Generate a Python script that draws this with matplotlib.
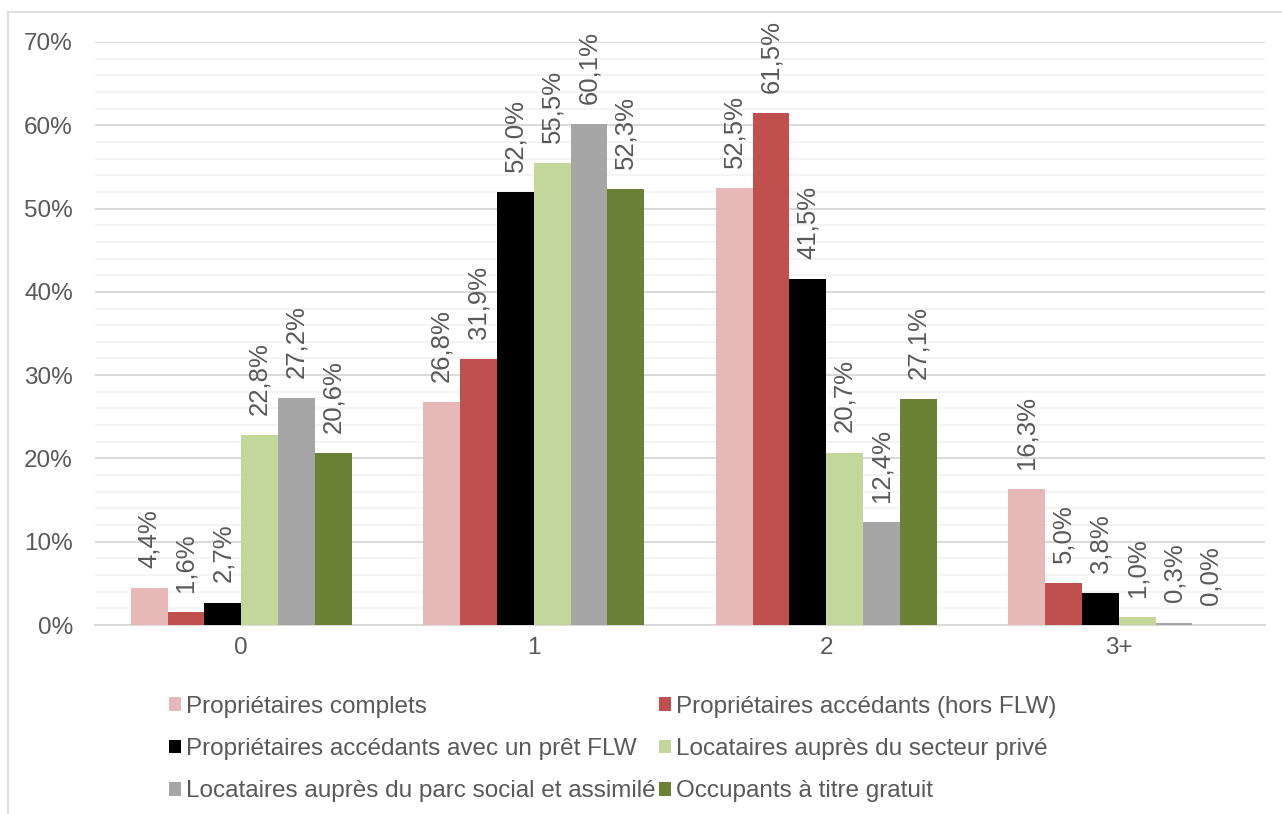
import matplotlib
matplotlib.use("Agg")
import matplotlib.pyplot as plt
import numpy as np
from matplotlib.lines import Line2D
from matplotlib.patches import Patch

plt.rcParams['font.family'] = ['Liberation Sans', 'DejaVu Sans']

categories = ["0", "1", "2", "3+"]
series_names = [
    "Propriétaires complets",
    "Propriétaires accédants (hors FLW)",
    "Propriétaires accédants avec un prêt FLW",
    "Locataires auprès du secteur privé",
    "Locataires auprès du parc social et assimilé",
    "Occupants à titre gratuit",
]
proprietaires_complets = [4.4, 26.8, 52.5, 16.3]
proprietaires_accedants = [1.6, 31.9, 61.5, 5.0]
proprietaires_flw = [2.7, 52.0, 41.5, 3.8]
locataires_prive = [22.8, 55.5, 20.7, 1.0]
locataires_social = [27.2, 60.1, 12.4, 0.3]
occupants_gratuit = [20.6, 52.3, 27.1, 0.0]
series_values = [proprietaires_complets, proprietaires_accedants, proprietaires_flw,
                 locataires_prive, locataires_social, occupants_gratuit]
colors = ["#E6B8B7", "#C0504D", "#000000", "#C4D79B", "#A6A6A6", "#6B8236"]
yticks = [0, 10, 20, 30, 40, 50, 60, 70]

text_color = "#595959"

fig = plt.figure(figsize=(12.82, 8.14), dpi=100)
ax = fig.add_axes([95/1282, 1-625/814, 1170/1282, (625-42)/814])

x = np.arange(len(categories))
bw = 0.126
n = len(series_values)
for i, (vals, col) in enumerate(zip(series_values, colors)):
    pos = x + (i - (n-1)/2) * bw
    ax.bar(pos, vals, width=bw, color=col, zorder=3, linewidth=0)
    for px, v in zip(pos, vals):
        ax.annotate(f"{v:.1f}%".replace(".", ","), (px, v), xytext=(0, 14.5),
                    textcoords="offset points", rotation=90, ha="center", va="bottom",
                    fontsize=18.5, color=text_color, zorder=4)

ax.set_xlim(-0.5, 3.5)
ax.set_ylim(0, 70)
ax.set_yticks(yticks)
ax.set_yticklabels([f"{t}%" for t in yticks])
ax.set_yticks(np.arange(0, 71, 2), minor=True)
ax.set_xticks(x)
ax.set_xticklabels(categories)
ax.tick_params(axis="both", which="both", length=0, labelsize=17.5, labelcolor=text_color)
ax.tick_params(axis="y", pad=16)
ax.tick_params(axis="x", pad=9)
ax.grid(axis="y", which="minor", color="#F2F2F2", linewidth=1.2, zorder=0)
ax.grid(axis="y", which="major", color="#D9D9D9", linewidth=1.4, zorder=1)
for s in ["top", "right", "left"]:
    ax.spines[s].set_visible(False)
ax.spines["bottom"].set_color("#D9D9D9")
ax.spines["bottom"].set_linewidth(1.4)
ax.spines["bottom"].set_zorder(2)

handles = [Patch(facecolor=c, edgecolor="none") for c in colors]
order = [0, 2, 4, 1, 3, 5]
leg = fig.legend([handles[i] for i in order], [series_names[i] for i in order],
                 ncol=2, loc="upper left", bbox_to_anchor=(169/1282, 1-696/814),
                 frameon=False, fontsize=17.5, labelcolor=text_color,
                 handlelength=0.5, handleheight=0.5, handletextpad=0.2,
                 columnspacing=0.15, labelspacing=0.83, borderpad=0, borderaxespad=0)

# outer chart border
fig.add_artist(Line2D([8/1282, 8/1282], [0, 1-12/814], color="#D9D9D9", linewidth=1.2))
fig.add_artist(Line2D([8/1282, 1], [1-12/814, 1-12/814], color="#D9D9D9", linewidth=1.2))

fig.savefig("out.png", dpi=100, facecolor="white")
